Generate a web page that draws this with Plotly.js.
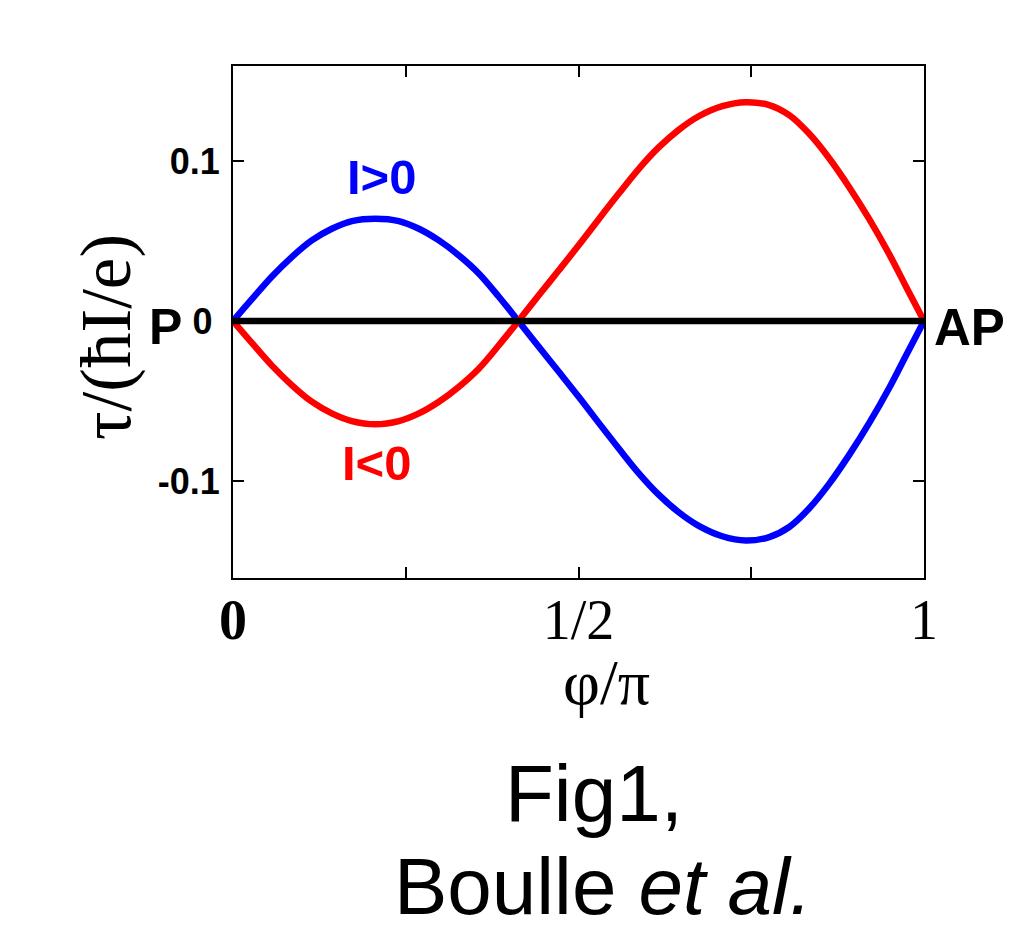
<!DOCTYPE html>
<html>
<head>
<meta charset="utf-8">
<script src="https://cdn.plot.ly/plotly-3.0.1.min.js"></script>
<style>html,body{margin:0;padding:0;background:#fff;}#chart{width:1024px;height:941px;}</style>
</head>
<body>
<div id="chart"></div>
<script>
// phase phi/pi
const phi = [0, 0.027, 0.056, 0.085, 0.114, 0.143, 0.172, 0.206, 0.240, 0.269, 0.298, 0.327, 0.356, 0.385, 0.413,
             0.4425, 0.4715, 0.5005, 0.529, 0.558, 0.587, 0.616, 0.645, 0.674, 0.708, 0.742, 0.776, 0.805, 0.834,
             0.863, 0.892, 0.921, 0.950, 0.974, 1.0];
// torque for I>0 (blue)
const torquePos = [0, 0.0135, 0.0277, 0.040, 0.0504, 0.0577, 0.0625, 0.064, 0.0625, 0.0577, 0.0504, 0.041, 0.0296, 0.015, 0,
                   -0.0161, -0.0317, -0.0475, -0.0635, -0.0795, -0.095, -0.1085, -0.1195, -0.128, -0.1345, -0.1372, -0.135, -0.1287, -0.117,
                   -0.1016, -0.0835, -0.0635, -0.0415, -0.0215, 0];
// torque for I<0 (red)
const torqueNeg = [0, -0.0135, -0.0277, -0.040, -0.0504, -0.0577, -0.0625, -0.0645, -0.0625, -0.0577, -0.0504, -0.041, -0.0296, -0.015, 0,
                   0.0161, 0.0317, 0.0475, 0.0635, 0.0795, 0.095, 0.1085, 0.1195, 0.128, 0.1343, 0.1368, 0.135, 0.1287, 0.117,
                   0.1016, 0.0835, 0.0635, 0.0415, 0.0215, 0];
// zero line P -> AP
const baseX = [0, 1];
const baseY = [0, 0];

const xTickVals = [0, 0.25, 0.5, 0.75, 1];
const xTickText = ["<b>0</b>", "", "1/2", "", "1"];
const yTickVals = [-0.1, 0, 0.1];
const yTickText = ["<b>-0.1</b>", "<b>0</b>\u2009", "<b>0.1</b>"];

const traces = [
  {x: phi, y: torquePos, mode: 'lines', line: {color: '#0000ff', width: 6.5, shape: 'spline', smoothing: 1}, hoverinfo: 'skip'},
  {x: phi, y: torqueNeg, mode: 'lines', line: {color: '#ff0000', width: 6.5, shape: 'spline', smoothing: 1}, hoverinfo: 'skip'},
  {x: baseX, y: baseY, mode: 'lines', line: {color: '#000000', width: 6.5}, hoverinfo: 'skip'}
];

const serif = 'Liberation Serif, Times New Roman, serif';
const sans = 'Liberation Sans, Arial, sans-serif';

const layout = {
  width: 1024, height: 941,
  margin: {l: 233, r: 100, t: 66, b: 363},
  paper_bgcolor: '#ffffff', plot_bgcolor: '#ffffff',
  showlegend: false,
  xaxis: {
    range: [0, 1], tickvals: xTickVals, ticktext: xTickText,
    ticks: 'inside', ticklen: 11, tickwidth: 2, tickcolor: '#000',
    showline: true, linecolor: '#000', linewidth: 2, mirror: 'ticks',
    showgrid: false, zeroline: false,
    tickfont: {family: serif, size: 56, color: '#000'},
    ticklabelstandoff: -8
  },
  yaxis: {
    range: [-0.1606, 0.1594], tickvals: yTickVals, ticktext: yTickText,
    ticks: 'inside', ticklen: 11, tickwidth: 2, tickcolor: '#000',
    showline: true, linecolor: '#000', linewidth: 2, mirror: 'ticks',
    showgrid: false, zeroline: false,
    tickfont: {family: sans, size: 36, color: '#000'},
    ticklabelstandoff: 4
  },
  annotations: [
    {text: 'φ/π', x: 0.54, y: -0.205, xref: 'paper', yref: 'paper', xanchor: 'center', yanchor: 'middle', showarrow: false, font: {family: serif, size: 64, color: '#000'}},
    {text: 'τ/(ħI/e)', x: -0.183, y: 0.47, xref: 'paper', yref: 'paper', xanchor: 'center', yanchor: 'middle', textangle: -90, showarrow: false, font: {family: serif, size: 71, color: '#000'}},
    {text: '<b>I>0</b>', x: 0.2145, y: 0.09, xref: 'x', yref: 'y', xanchor: 'center', yanchor: 'middle', showarrow: false, font: {family: sans, size: 49, color: '#0000ff'}},
    {text: '<b>I<0</b>', x: 0.207, y: -0.089, xref: 'x', yref: 'y', xanchor: 'center', yanchor: 'middle', showarrow: false, font: {family: sans, size: 49, color: '#ff0000'}},
    {text: '<b>P</b>', x: -0.097, y: -0.004, xref: 'paper', yref: 'y', xanchor: 'center', yanchor: 'middle', showarrow: false, font: {family: sans, size: 50, color: '#000'}},
    {text: '<b>AP</b>', x: 1.066, y: -0.004, xref: 'paper', yref: 'y', xanchor: 'center', yanchor: 'middle', showarrow: false, font: {family: sans, size: 51, color: '#000'}},
    {text: 'Fig1,', x: 0.522, y: -0.42, xref: 'paper', yref: 'paper', xanchor: 'center', yanchor: 'middle', showarrow: false, font: {family: sans, size: 80, color: '#000'}},
    {text: 'Boulle <i>et al.</i>', x: 0.535, y: -0.603, xref: 'paper', yref: 'paper', xanchor: 'center', yanchor: 'middle', showarrow: false, font: {family: sans, size: 80, color: '#000'}}
  ]
};

Plotly.newPlot('chart', traces, layout, {staticPlot: true, displayModeBar: false});
</script>
</body>
</html>
